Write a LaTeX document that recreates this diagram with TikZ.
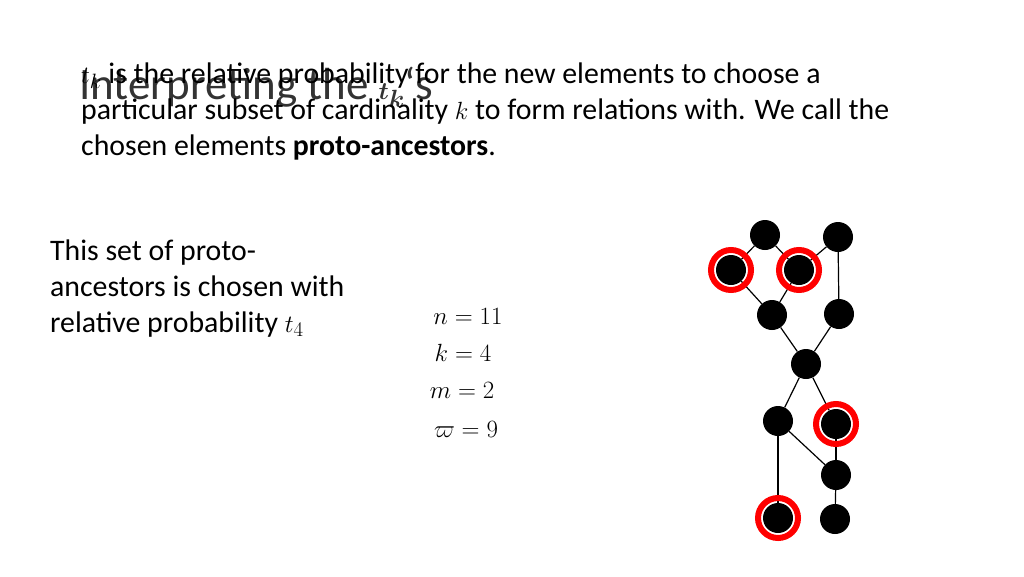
\documentclass[tikz,border=0pt]{standalone}
\usepackage{amsmath}
\usepackage{fontspec}
\setmainfont{Carlito}
\begin{document}
\begin{tikzpicture}[x=1pt,y=-1pt,
  dot/.style={circle,fill=black,inner sep=0pt,minimum size=30pt},
  ring/.style={circle,draw=red,line width=6pt,minimum size=40pt,inner sep=0pt},
  txt/.style={anchor=west,inner sep=0pt,font=\fontsize{29.8}{36}\selectfont}]
\useasboundingbox (0,0) rectangle (1024,576);
\node[anchor=west,inner sep=0pt,font=\fontsize{45}{52}\selectfont,text=black!80] (title) at (79,87) {Interpreting the $\boldsymbol{t_k}$‘s};
\node[txt,align=left,anchor=base west] (body) at (81,155) {$t_k$ is the relative probability for the new elements to choose a\\particular subset of cardinality $k$ to form relations with. We call the\\chosen elements \textbf{proto-ancestors}.};
\node[txt,align=left,anchor=base west] (left) at (50,332) {This set of proto-\\ancestors is chosen with\\relative probability $t_4$};
\node[txt,anchor=center] (n) at (468,316) {$n=11$};
\node[txt,anchor=center] (k) at (463,353) {$k=4$};
\node[txt,anchor=center] (m) at (462,390) {$m=2$};
\node[txt,anchor=center] (w) at (466,429) {$\varpi=9$};
\foreach \n/\x/\y in {a/765/235,b/838/237,c/731/270,d/799/270,e/772/315,f/839/314,g/806/364,h/778/421,i/836/424,j/836/475,k/778/518,l/835/519}
  \node[dot] (\n) at (\x,\y) {};
\foreach \u/\v in {a/c,a/d,b/d,b/f,c/e,d/e,e/g,f/g,g/h,g/i,h/k,h/j,i/j,j/l}
  \draw[line width=1.2pt] (\u) -- (\v);
\foreach \n in {c,d,i,k} \node[ring] at (\n) {};
\end{tikzpicture}
\end{document}
